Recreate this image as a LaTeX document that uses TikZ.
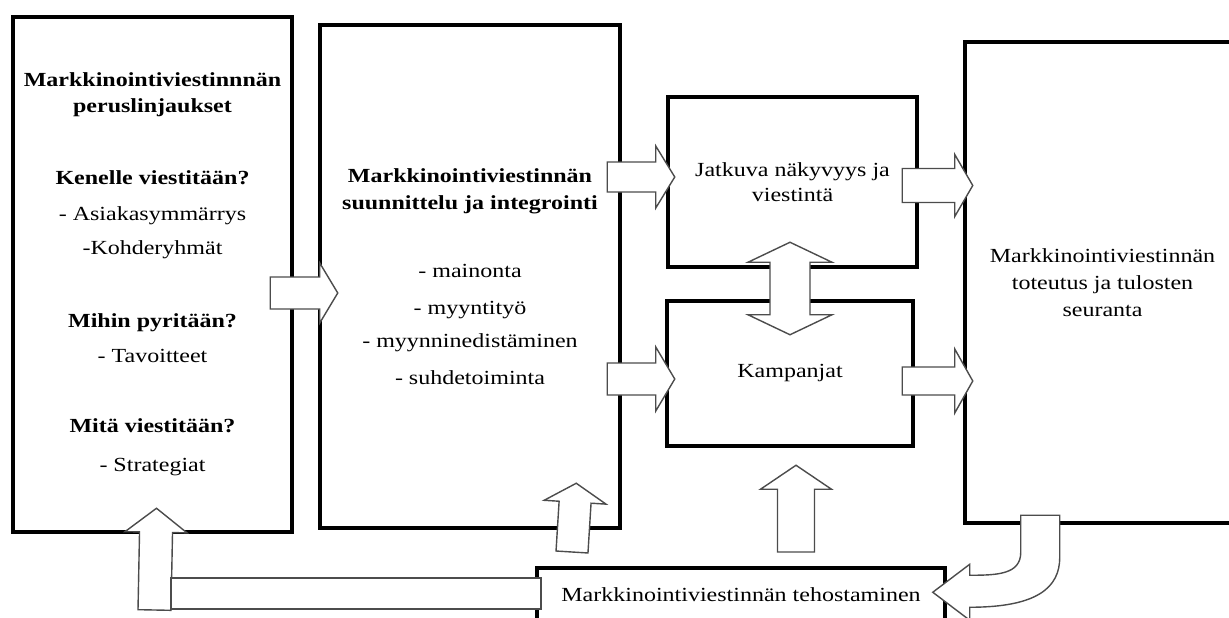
\documentclass[tikz,border=0pt]{standalone}
\usepackage{fontspec}
\setmainfont{Liberation Serif}[FakeStretch=1.2]
\usetikzlibrary{calc}

\tikzset{
	panel/.style={draw, line width=4.5pt, inner sep=0pt, align=center},
	blockarrow/.style={draw=black!70, line width=1.4pt, fill=white, line join=miter},
}

% fat arrow: [head length]{start}{end}{half shaft}{half head}
\newcommand{\fatarrow}[5][20pt]{%
	\path #2 coordinate (fa-s) #3 coordinate (fa-e);
	\path ($(fa-e)!#1!(fa-s)$) coordinate (fa-b);
	\draw[blockarrow] ($(fa-s)!#4!90:(fa-e)$) -- ($(fa-b)!#4!-90:(fa-s)$)
		-- ($(fa-b)!#5!-90:(fa-s)$) -- (fa-e) -- ($(fa-b)!#5!90:(fa-s)$)
		-- ($(fa-b)!#4!90:(fa-s)$) -- ($(fa-s)!#4!-90:(fa-e)$) -- cycle;
}
% the same with a head at both ends
\newcommand{\fatdarrow}[5][20pt]{%
	\path #2 coordinate (fa-s) #3 coordinate (fa-e);
	\path ($(fa-s)!#1!(fa-e)$) coordinate (fa-a) ($(fa-e)!#1!(fa-s)$) coordinate (fa-b);
	\draw[blockarrow] (fa-s) -- ($(fa-a)!#5!90:(fa-e)$) -- ($(fa-a)!#4!90:(fa-e)$)
		-- ($(fa-b)!#4!-90:(fa-s)$) -- ($(fa-b)!#5!-90:(fa-s)$) -- (fa-e)
		-- ($(fa-b)!#5!90:(fa-s)$) -- ($(fa-b)!#4!90:(fa-s)$)
		-- ($(fa-a)!#4!-90:(fa-e)$) -- ($(fa-a)!#5!-90:(fa-e)$) -- cycle;
}

\begin{document}
\begin{tikzpicture}[x=1pt, y=-1pt, font=\fontsize{20}{26}\selectfont]

\useasboundingbox (0,0) rectangle (1229,618);
\clip (0,0) rectangle (1229,618);

\node[panel, minimum width=279pt, minimum height=515pt] (lbox) at (152.5,274.5) {%
	\textbf{Markkinointiviestinnnän}\\
	\textbf{peruslinjaukset}\\[46pt]
	\textbf{Kenelle viestitään?}\\[10pt]
	- Asiakasymmärrys\\[8pt]
	-Kohderyhmät\\[47pt]
	\textbf{Mihin pyritään?}\\[9pt]
	- Tavoitteet\\[44pt]
	\textbf{Mitä viestitään?}\\[13pt]
	- Strategiat};
\node[panel, minimum width=300pt, minimum height=503pt] (mbox) at (470,276.5) {%
	\textbf{Markkinointiviestinnän}\\[1pt]
	\textbf{suunnittelu ja integrointi}\\[42pt]
	- mainonta\\[11pt]
	- myyntityö\\[7pt]
	- myynninedistäminen\\[11pt]
	- suhdetoiminta};
\node[panel, minimum width=249pt, minimum height=170pt] (jat) at (792.5,182) {Jatkuva näkyvyys ja\\[-1pt] viestintä};
\node[panel, minimum width=246pt, minimum height=145pt] (kamp) at (790,373.5) {Kampanjat};
\node[panel, minimum width=275pt, minimum height=481pt] (rbox) at (1102.5,282.5) {%
	Markkinointiviestinnän\\[1pt] toteutus ja tulosten\\[1pt] seuranta};
\node[panel, line width=4pt, minimum width=408pt, minimum height=54pt] (tehost) at (741,595) {Markkinointiviestinnän tehostaminen};

% arrows between the boxes
\fatarrow[18pt]{($(lbox.east)+(-24,18.5)$)}{($(mbox.west)+(20,16.5)$)}{16pt}{30pt}
\fatarrow[19pt]{($(mbox.east |- jat.west)+(-15,-5)$)}{($(jat.west)+(9,-5)$)}{15pt}{31pt}
\fatarrow[19pt]{($(mbox.east |- kamp.west)+(-15,5.5)$)}{($(kamp.west)+(10,5.5)$)}{16pt}{32pt}
\fatarrow[18pt]{($(jat.east)+(-17,3.5)$)}{($(rbox.west |- jat.east)+(10,3.5)$)}{17pt}{31pt}
\fatarrow[18pt]{($(kamp.east)+(-13,7.5)$)}{($(rbox.west |- kamp.east)+(10,7.5)$)}{14pt}{32pt}
\fatdarrow[20pt]{($(jat.south)+(-2.5,-27)$)}{($(kamp.north)+(0,36)$)}{20pt}{42pt}

% feedback
\fatarrow[19pt]{($(tehost.north west)+(37,-14)$)}{($(mbox.south east)+(-46,-47)$)}{16pt}{31pt}
\fatarrow[24pt]{($(tehost.north)+(55,-14)$)}{($(kamp.south)+(6,17)$)}{18.5pt}{35.5pt}
\fatarrow[24pt]{($(tehost.west)+(-380.5,15)$)}{($(lbox.south)+(4,-26)$)}{16.5pt}{31pt}
\draw[blockarrow] ($(tehost.west)+(-364,-17)$) rectangle ($(tehost.west)+(6,14)$);

\begin{scope}[shift={(rbox.south west)}]
	\draw[blockarrow] (58,-10) -- (58,27) .. controls (58,49) and (35,50) .. (7,50)
		-- (7,39) -- (-30,67) -- (7,95) -- (7,82)
		.. controls (75,82) and (97,62) .. (97,32) -- (97,-10) -- cycle;
\end{scope}

\end{tikzpicture}
\end{document}
